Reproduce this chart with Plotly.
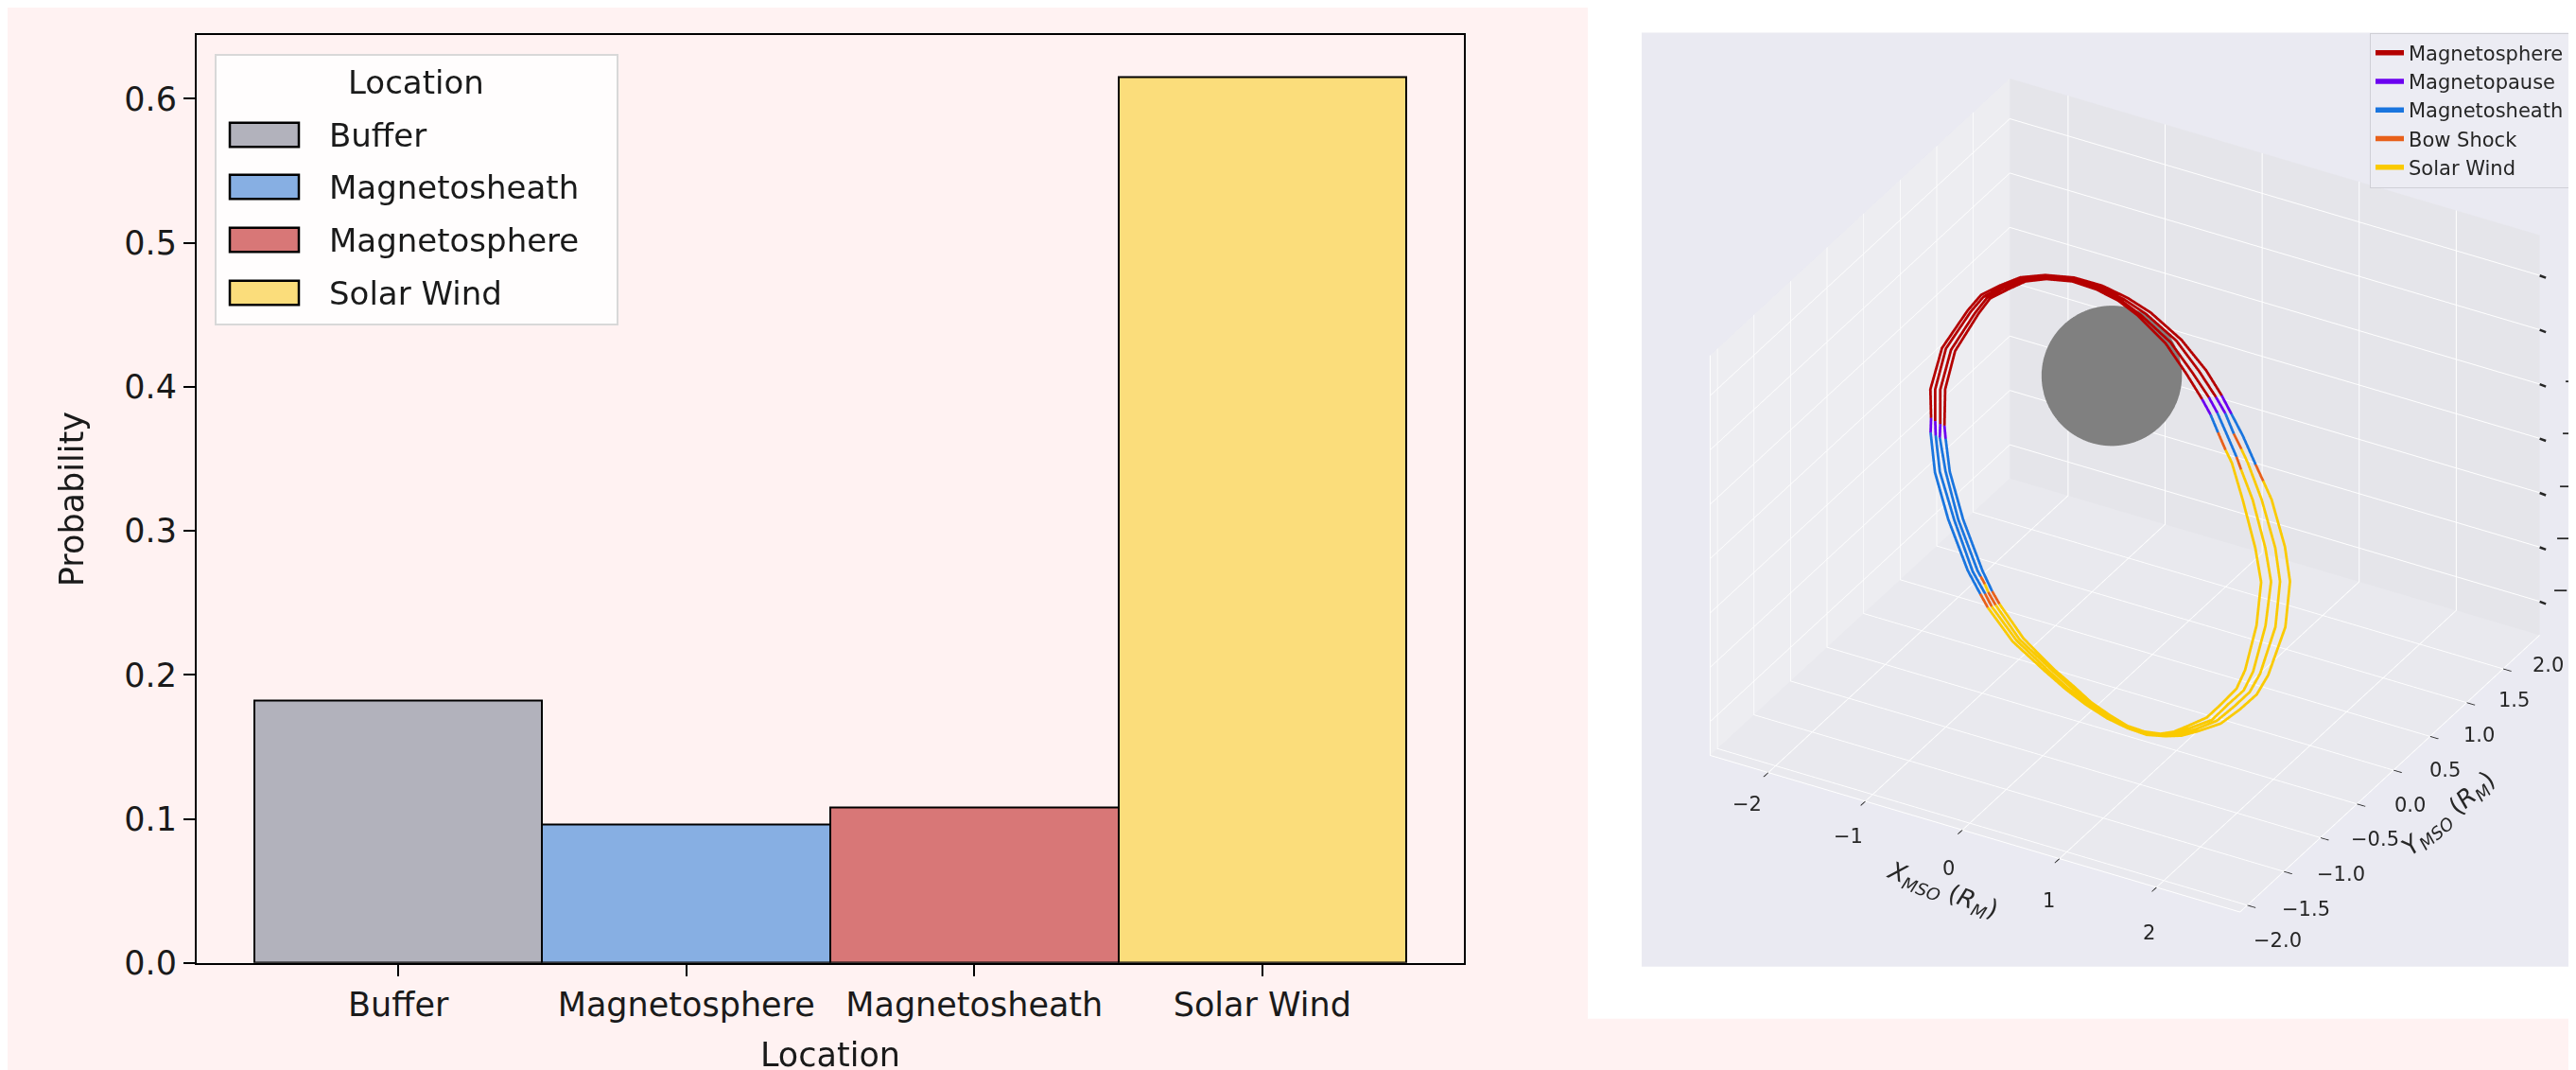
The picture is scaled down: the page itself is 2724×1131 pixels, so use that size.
import numpy as np
import plotly.graph_objects as go

W, H = 2724, 1131

# ---------------- Left panel data ----------------
categories = ["Buffer", "Magnetosphere", "Magnetosheath", "Solar Wind"]
probabilities = [0.182, 0.096, 0.108, 0.615]
bar_colors = ["#B2B2BC", "#87AFE3", "#D87777", "#FBDD7B"]
legend_labels = ["Buffer", "Magnetosheath", "Magnetosphere", "Solar Wind"]
legend_colors = ["#B2B2BC", "#87AFE3", "#D87777", "#FBDD7B"]
prob_ticks = [0.0, 0.1, 0.2, 0.3, 0.4, 0.5, 0.6]

# ---------------- Right panel data (MSO, in R_M) ----------------
region_names = ["Magnetosphere", "Magnetopause", "Magnetosheath", "Bow Shock", "Solar Wind"]
region_codes = ["S", "P", "H", "B", "W"]
region_colors = ["#B40000", "#6B00F0", "#1A75DE", "#E8601A", "#FACA00"]

orbit1_x = [-1.94, -1.95, -1.98, -1.89, -1.64, -1.51, -1.31, -1.09, -0.82, -0.50, -0.18, 0.11, 0.38, 0.75, 1.05,
            1.24, 1.37, 1.51, 1.68, 1.78, 1.89, 2.08, 2.17, 2.16, 2.02, 1.91, 1.74, 1.54, 1.30, 1.12, 0.94, 0.73,
            0.51, 0.28, 0.03, -0.21, -0.45, -0.84, -1.14, -1.24, -1.40, -1.66, -1.85, -1.94]
orbit1_y = [0.54, 0.56, 0.59, 0.63, 0.65, 0.66, 0.65, 0.64, 0.62, 0.59, 0.55, 0.51, 0.47, 0.40, 0.34,
            0.30, 0.26, 0.23, 0.18, 0.15, 0.12, 0.05, 0.00, -0.05, -0.10, -0.11, -0.11, -0.11, -0.10, -0.09, -0.07, -0.05,
            -0.02, 0.01, 0.05, 0.09, 0.13, 0.20, 0.26, 0.29, 0.33, 0.41, 0.48, 0.54]
orbit1_z = [-1.99, -1.75, -1.28, -0.52, 0.28, 0.62, 0.91, 1.19, 1.40, 1.56, 1.63, 1.61, 1.53, 1.31, 0.98,
            0.67, 0.45, 0.16, -0.22, -0.43, -0.68, -1.36, -1.89, -2.67, -3.57, -3.97, -4.33, -4.70, -4.98, -5.17, -5.30, -5.41,
            -5.44, -5.42, -5.35, -5.24, -5.09, -4.83, -4.44, -4.28, -3.98, -3.28, -2.60, -1.99]
orbit1_region = ["H", "P"] + ["S"] * 14 + ["P", "H", "H", "B"] + ["W"] * 19 + ["B"] + ["H"] * 4

orbit2_x = [-1.88, -1.90, -1.93, -1.85, -1.61, -1.48, -1.29, -1.08, -0.82, -0.51, -0.20, 0.08, 0.33, 0.69, 0.97,
            1.18, 1.30, 1.41, 1.51, 1.59, 1.78, 1.98, 2.06, 2.05, 1.93, 1.83, 1.67, 1.49, 1.27, 1.09, 0.92, 0.72,
            0.51, 0.29, 0.05, -0.19, -0.42, -0.80, -1.10, -1.19, -1.34, -1.60, -1.80, -1.88]
orbit2_y = [0.53, 0.55, 0.59, 0.63, 0.65, 0.65, 0.65, 0.64, 0.62, 0.59, 0.55, 0.51, 0.47, 0.41, 0.35,
            0.30, 0.27, 0.24, 0.21, 0.19, 0.13, 0.05, 0.01, -0.04, -0.09, -0.10, -0.10, -0.10, -0.09, -0.09, -0.07, -0.05,
            -0.02, 0.01, 0.05, 0.09, 0.13, 0.20, 0.26, 0.29, 0.32, 0.41, 0.48, 0.53]
orbit2_z = [-2.00, -1.77, -1.25, -0.51, 0.27, 0.61, 0.89, 1.17, 1.36, 1.52, 1.59, 1.56, 1.48, 1.25, 0.91,
            0.61, 0.41, 0.13, -0.06, -0.24, -0.75, -1.43, -1.96, -2.74, -3.60, -3.98, -4.33, -4.69, -4.97, -5.16, -5.30, -5.40,
            -5.43, -5.40, -5.32, -5.21, -5.06, -4.79, -4.40, -4.25, -3.96, -3.25, -2.56, -2.00]
orbit2_region = ["H", "P"] + ["S"] * 14 + ["P", "H", "B"] + ["W"] * 20 + ["B"] + ["H"] * 4

orbit3_x = [-1.83, -1.84, -1.87, -1.79, -1.56, -1.44, -1.26, -1.06, -0.81, -0.51, -0.22, 0.04, 0.28, 0.63, 0.90,
            1.10, 1.21, 1.32, 1.46, 1.53, 1.68, 1.87, 1.96, 1.94, 1.85, 1.76, 1.60, 1.44, 1.22, 1.06, 0.90, 0.71,
            0.51, 0.30, 0.07, -0.16, -0.39, -0.76, -1.06, -1.15, -1.20, -1.25, -1.29, -1.55, -1.74, -1.83]
orbit3_y = [0.52, 0.54, 0.58, 0.62, 0.64, 0.65, 0.64, 0.63, 0.62, 0.59, 0.55, 0.51, 0.47, 0.41, 0.35,
            0.31, 0.28, 0.25, 0.21, 0.18, 0.14, 0.06, 0.02, -0.03, -0.08, -0.09, -0.09, -0.10, -0.09, -0.08, -0.06, -0.05,
            -0.02, 0.01, 0.05, 0.09, 0.13, 0.19, 0.26, 0.28, 0.30, 0.31, 0.32, 0.40, 0.48, 0.52]
orbit3_z = [-2.00, -1.78, -1.21, -0.49, 0.28, 0.62, 0.90, 1.16, 1.36, 1.50, 1.56, 1.53, 1.43, 1.19, 0.85,
            0.55, 0.36, 0.10, -0.23, -0.39, -0.82, -1.50, -2.03, -2.79, -3.62, -4.00, -4.34, -4.70, -4.97, -5.16, -5.30, -5.39,
            -5.41, -5.38, -5.29, -5.17, -5.02, -4.74, -4.35, -4.19, -4.09, -3.99, -3.92, -3.21, -2.53, -2.00]
orbit3_region = ["H", "P"] + ["S"] * 14 + ["P", "H", "H", "B"] + ["W"] * 19 + ["B", "W", "B"] + ["H"] * 4

orbit4_x = [-1.77, -1.79, -1.82, -1.74, -1.52, -1.41, -1.22, -1.03, -0.80, -0.52, -0.24, 0.01, 0.24, 0.57, 0.83,
            1.03, 1.14, 1.24, 1.34, 1.42, 1.57, 1.76, 1.85, 1.84, 1.76, 1.68, 1.54, 1.38, 1.18, 1.03, 0.88, 0.70,
            0.51, 0.31, 0.09, -0.13, -0.36, -0.72, -1.02, -1.11, -1.24, -1.50, -1.69, -1.77]
orbit4_y = [0.52, 0.53, 0.58, 0.61, 0.64, 0.65, 0.64, 0.63, 0.61, 0.59, 0.55, 0.52, 0.48, 0.42, 0.36,
            0.31, 0.28, 0.25, 0.22, 0.20, 0.15, 0.07, 0.03, -0.02, -0.07, -0.08, -0.09, -0.09, -0.08, -0.08, -0.06, -0.04,
            -0.02, 0.01, 0.04, 0.09, 0.12, 0.19, 0.26, 0.28, 0.32, 0.40, 0.47, 0.52]
orbit4_z = [-1.99, -1.77, -1.18, -0.47, 0.30, 0.62, 0.90, 1.16, 1.35, 1.48, 1.53, 1.49, 1.39, 1.13, 0.78,
            0.48, 0.29, 0.05, -0.18, -0.35, -0.89, -1.58, -2.11, -2.85, -3.65, -4.02, -4.35, -4.70, -4.97, -5.16, -5.30, -5.38,
            -5.40, -5.35, -5.26, -5.14, -4.98, -4.70, -4.31, -4.15, -3.89, -3.18, -2.49, -1.99]
orbit4_region = ["H", "P"] + ["S"] * 14 + ["P", "H", "B"] + ["W"] * 20 + ["B"] + ["H"] * 4

orbits = [
    (orbit1_x, orbit1_y, orbit1_z, orbit1_region),
    (orbit2_x, orbit2_y, orbit2_z, orbit2_region),
    (orbit3_x, orbit3_y, orbit3_z, orbit3_region),
    (orbit4_x, orbit4_y, orbit4_z, orbit4_region),
]
for o in orbits:
    assert len(o[0]) == len(o[1]) == len(o[2]) == len(o[3]), [len(a) for a in o]

# planet drawn as a grey ball (centre and semi-axes in data units, as it appears in the box)
planet_center = [-0.39, 0.96, -0.65]
planet_radii = [0.63, 0.473, 1.10]

x_range = [-2.6, 2.86]
y_range = [-1.6, 2.5]
z_range = [-5.62, 1.74]
x_ticks = [-2, -1, 0, 1, 2]
y_ticks = [-1.5, -1.0, -0.5, 0.0, 0.5, 1.0, 1.5, 2.0]
z_ticks = [-5, -4, -3, -2, -1, 0, 1]

TXT = "#262626"
FONT3D = dict(size=21, color=TXT, family="DejaVu Sans")
BOX = 1.38  # overall size of the 3-D box (orthographic zoom)
SHIFT = 10  # scene moved left by this many pixels


def px_x(p):
    return p / W


def px_y(p):
    return 1 - p / H


def minus(s):
    return s.replace("-", "\u2212")


fig = go.Figure()

# ---- bar chart ----
fig.add_trace(go.Bar(
    x=categories, y=probabilities, width=1.0,
    marker=dict(color=bar_colors, line=dict(color="black", width=2)),
    showlegend=False, hoverinfo="skip", xaxis="x", yaxis="y",
))


# ---- orbit segments ----
def collect(code):
    X, Y, Z = [], [], []
    for xs, ys, zs, regs in orbits:
        n = len(regs)
        i = 0
        while i < n:
            if regs[i] == code:
                j = i
                while j + 1 < n and regs[j + 1] == code:
                    j += 1
                s = i - 1 if i > 0 else i
                if j > s:
                    X += xs[s:j + 1] + [None]
                    Y += ys[s:j + 1] + [None]
                    Z += zs[s:j + 1] + [None]
                i = j + 1
            else:
                i += 1
    return X, Y, Z


for name, code, col in zip(region_names, region_codes, region_colors):
    X, Y, Z = collect(code)
    fig.add_trace(go.Scatter3d(
        x=X, y=Y, z=Z, mode="lines", name=name,
        line=dict(color=col, width=5.5), connectgaps=False,
        hoverinfo="skip", scene="scene",
    ))

# planet ball
u = np.linspace(0, 2 * np.pi, 72)
v = np.linspace(0, np.pi, 36)
sx = planet_center[0] + planet_radii[0] * np.outer(np.cos(u), np.sin(v))
sy = planet_center[1] + planet_radii[1] * np.outer(np.sin(u), np.sin(v))
sz = planet_center[2] + planet_radii[2] * np.outer(np.ones_like(u), np.cos(v))
fig.add_trace(go.Surface(
    x=sx, y=sy, z=sz, surfacecolor=np.zeros_like(sx),
    colorscale=[[0, "#808080"], [1, "#808080"]], showscale=False,
    lighting=dict(ambient=1.0, diffuse=0.0, specular=0.0, fresnel=0.0, roughness=1.0),
    hoverinfo="skip", showlegend=False, scene="scene",
))

# ---- shapes: panels ----
shapes = [
    dict(type="rect", xref="paper", yref="paper", x0=px_x(1671), x1=1.0, y0=px_y(1088), y1=1.0,
         fillcolor="white", line=dict(width=0), layer="below"),
    dict(type="rect", xref="paper", yref="paper", x0=px_x(1728), x1=1.0, y0=px_y(1032), y1=px_y(27),
         fillcolor="#EAEAF2", line=dict(width=0), layer="below"),
    dict(type="rect", xref="paper", yref="paper", x0=px_x(220), x1=px_x(645), y0=px_y(341), y1=px_y(51),
         fillcolor="rgba(255,255,255,0.85)", line=dict(color="#D8D8D8", width=2), layer="above"),
]
annotations = [
    dict(text="Location", xref="paper", yref="paper", x=px_x(432), y=px_y(80), showarrow=False,
         xanchor="center", yanchor="middle", font=dict(size=34, color="#1a1a1a", family="DejaVu Sans")),
    # 3-D axis titles (screen-aligned along their axes, as in the original)
    dict(text="<i>X<sub>MSO</sub></i> (<i>R<sub>M</sub></i>)", xref="paper", yref="paper",
         x=px_x(2046), y=px_y(950), showarrow=False, textangle=21, xanchor="center", yanchor="middle",
         font=dict(size=26, color=TXT, family="DejaVu Sans")),
    dict(text="<i>Y<sub>MSO</sub></i> (<i>R<sub>M</sub></i>)", xref="paper", yref="paper",
         x=px_x(2582), y=px_y(868), showarrow=False, textangle=-41, xanchor="center", yanchor="middle",
         font=dict(size=26, color=TXT, family="DejaVu Sans")),
]
rows = [137, 193, 250, 307]
for lab, col, ry in zip(legend_labels, legend_colors, rows):
    shapes.append(dict(type="rect", xref="paper", yref="paper", x0=px_x(235), x1=px_x(308),
                       y0=px_y(ry + 13), y1=px_y(ry - 13), fillcolor=col,
                       line=dict(color="black", width=2.5), layer="above"))
    annotations.append(dict(text=lab, xref="paper", yref="paper", x=px_x(338), y=px_y(ry), showarrow=False,
                            xanchor="left", yanchor="middle",
                            font=dict(size=34, color="#1a1a1a", family="DejaVu Sans")))

# z tick labels sit on the right-hand edge of the figure and are cut by it, as in the original
for t in z_ticks:
    k = 1 - t
    annotations.append(dict(text=minus(str(t)), xref="paper", yref="paper",
                            x=px_x(2724 - 3 * k), y=px_y(290 + 56.2 * k), showarrow=False,
                            xanchor="center", yanchor="middle", font=FONT3D))

# ---- 3D tick labels as screen-aligned annotations ----
scene_ann = []
for t in x_ticks:
    f = (2 - t) / 4.0
    scene_ann.append(dict(x=t, y=y_range[0], z=z_range[0], text=minus(str(t)), showarrow=False,
                          xshift=-18 - 14 * f + SHIFT, yshift=-48 + 15 * f, font=FONT3D))
for t in y_ticks:
    f = (t + 2) / 4.0
    scene_ann.append(dict(x=x_range[1], y=t, z=z_range[0], text=minus(f"{t:.1f}"), showarrow=False,
                          xshift=58 - 4 - 16 * f + SHIFT, yshift=-5 + 9 * f, font=FONT3D))
scene_ann.append(dict(x=x_range[1], y=y_range[0], z=z_range[0], text=minus("-2.0"), showarrow=False,
                      xshift=30 + SHIFT, yshift=-30, font=FONT3D))
for t in z_ticks:
    scene_ann.append(dict(x=x_range[1], y=y_range[1], z=t, text=" ", showarrow=True,
                          arrowhead=0, arrowwidth=2.5, arrowcolor=TXT, ax=8, ay=3,
                          standoff=0, startstandoff=0, font=dict(size=1)))

axis3d_common = dict(
    showbackground=True, gridcolor="white", gridwidth=2, showline=True, linecolor="white", linewidth=2,
    zeroline=False, showspikes=False, ticks="outside", ticklen=10, tickwidth=2, tickcolor=TXT,
    showticklabels=False, autorange=False, title=dict(text=""),
)

fig.update_layout(
    width=W, height=H, margin=dict(l=0, r=0, t=0, b=0),
    paper_bgcolor="#FFF2F2", plot_bgcolor="#FFF2F2",
    font=dict(family="DejaVu Sans", color="#1a1a1a"),
    hovermode=False, bargap=0, barmode="overlay",
    xaxis=dict(
        domain=[px_x(200), px_x(1540)], range=[-0.7, 3.7], type="category",
        categoryorder="array", categoryarray=categories,
        showline=True, linecolor="black", linewidth=2, mirror=True, showgrid=False, zeroline=False,
        ticks="outside", ticklen=12, tickwidth=2, tickcolor="black",
        tickfont=dict(size=35, color="#1a1a1a"),
        title=dict(text="Location", font=dict(size=35, color="#1a1a1a"), standoff=22),
    ),
    yaxis=dict(
        domain=[px_y(1028), px_y(30)], range=[0, 0.644],
        tickvals=prob_ticks, ticktext=[f"{v:.1f}" for v in prob_ticks],
        showline=True, linecolor="black", linewidth=2, mirror=True, showgrid=False, zeroline=False,
        ticks="outside", ticklen=12, tickwidth=2, tickcolor="black",
        tickfont=dict(size=35, color="#1a1a1a"),
        title=dict(text="Probability", font=dict(size=35, color="#1a1a1a"), standoff=32),
    ),
    scene=dict(
        domain=dict(x=[px_x(1774 - SHIFT), px_x(2724 - SHIFT)], y=[px_y(1000), px_y(50)]),
        bgcolor="rgba(0,0,0,0)",
        aspectmode="manual", aspectratio=dict(x=BOX, y=BOX, z=0.77 * BOX),
        camera=dict(eye=dict(x=0.573, y=-1.013, z=0.713), up=dict(x=0, y=0, z=1),
                    center=dict(x=0, y=0, z=0), projection=dict(type="orthographic")),
        xaxis=dict(axis3d_common, range=x_range, tickvals=x_ticks, backgroundcolor="#EDEDF1"),
        yaxis=dict(axis3d_common, range=y_range, tickvals=y_ticks, backgroundcolor="#E5E5EA"),
        zaxis=dict(axis3d_common, range=z_range, tickvals=z_ticks, backgroundcolor="#E9E9EE", ticks=""),
        annotations=scene_ann,
    ),
    legend=dict(x=px_x(2498), y=px_y(27), xanchor="left", yanchor="top",
                bgcolor="rgba(236,236,243,0.9)", bordercolor="#CFCFD6", borderwidth=1,
                font=dict(size=21, color=TXT, family="DejaVu Sans")),
    shapes=shapes, annotations=annotations,
)

fig.write_html("out.html")
